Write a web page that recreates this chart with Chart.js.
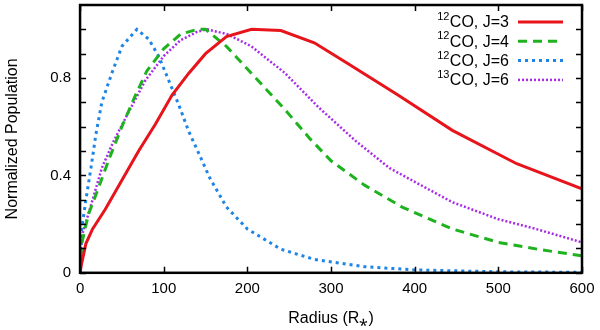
<!DOCTYPE html>
<html>
<head>
<meta charset="utf-8">
<script src="https://cdn.jsdelivr.net/npm/chart.js@4/dist/chart.umd.min.js"></script>
<style>
  html, body { margin: 0; padding: 0; background: #fff; }
  #wrap { width: 600px; height: 330px; }
</style>
</head>
<body>
<div id="wrap"><canvas id="grafico"></canvas></div>
<script>
// valores (raio em R*, populacao normalizada)
const seriesLabels = ['¹²CO, J=3', '¹²CO, J=4', '¹²CO, J=6', '¹³CO, J=6']

const radiusJ3 = [0, 2, 7, 15, 30, 50, 70, 90, 110, 130, 150, 175, 205, 240, 280, 320, 380, 445, 522, 600]
const popJ3    = [0, 0.04, 0.12, 0.18, 0.26, 0.38, 0.50, 0.61, 0.73, 0.82, 0.90, 0.97, 1.0, 0.995, 0.945, 0.86, 0.73, 0.585, 0.448, 0.345]

const radiusJ4 = [0, 2, 10, 20, 35, 50, 65, 80, 100, 120, 140, 150, 175, 210, 245, 275, 300, 340, 385, 445, 500, 550, 600]
const popJ4    = [0, 0.12, 0.24, 0.33, 0.47, 0.60, 0.72, 0.83, 0.92, 0.98, 1.0, 1.0, 0.93, 0.80, 0.67, 0.55, 0.46, 0.36, 0.27, 0.18, 0.125, 0.095, 0.07]

const radiusJ6 = [0, 2, 7, 13, 19, 26, 38, 50, 68, 82, 94, 106, 118, 130, 142, 155, 175, 200, 240, 280, 340, 400, 500, 600]
const popJ6    = [0, 0.18, 0.30, 0.43, 0.57, 0.70, 0.82, 0.93, 1.0, 0.96, 0.89, 0.79, 0.69, 0.58, 0.49, 0.39, 0.27, 0.18, 0.097, 0.055, 0.025, 0.012, 0.004, 0.002]

const radius13J6 = [0, 2, 15, 26, 40, 55, 78, 100, 120, 140, 152, 176, 205, 245, 285, 330, 370, 410, 445, 500, 545, 600]
const pop13J6    = [0, 0.15, 0.30, 0.43, 0.54, 0.64, 0.79, 0.89, 0.955, 0.99, 1.0, 0.98, 0.93, 0.82, 0.68, 0.54, 0.43, 0.355, 0.29, 0.22, 0.18, 0.125]

const xTicks = [0, 100, 200, 300, 400, 500, 600]
const yTicks = [0, 0.1, 0.2, 0.3, 0.4, 0.5, 0.6, 0.7, 0.8, 0.9, 1.0]
const yLabelled = ['0', '0.4', '0.8']

const pts = (xs, ys) => xs.map((x, i) => ({ x, y: ys[i] }))

const FONTE = "'Liberation Sans', Arial, sans-serif"
Chart.defaults.font.family = FONTE
Chart.defaults.font.size = 15
Chart.defaults.color = '#000'

// moldura e ticks para dentro, estilo gnuplot
const moldura = {
  id: 'moldura',
  afterDraw(chart) {
    const { ctx, chartArea: a, scales } = chart
    ctx.save()
    ctx.strokeStyle = '#000'
    ctx.lineWidth = 1.5
    scales.x.ticks.forEach(t => {
      const px = Math.round(scales.x.getPixelForValue(t.value)) + 0.5
      ctx.beginPath()
      ctx.moveTo(px, a.bottom); ctx.lineTo(px, a.bottom - 6)
      ctx.moveTo(px, a.top); ctx.lineTo(px, a.top + 6)
      ctx.stroke()
    })
    scales.y.ticks.forEach(t => {
      const py = Math.round(scales.y.getPixelForValue(t.value)) + 0.5
      ctx.beginPath()
      ctx.moveTo(a.left, py); ctx.lineTo(a.left + 6, py)
      ctx.moveTo(a.right, py); ctx.lineTo(a.right - 6, py)
      ctx.stroke()
    })
    ctx.lineWidth = 2.5
    ctx.strokeRect(a.left, a.top, a.right - a.left, a.bottom - a.top)
    ctx.restore()
  }
}

// superscritos desenhados menores e elevados
const SUP = { '¹': '1', '²': '2', '³': '3' }

// legenda: texto a esquerda, amostra de linha a direita
const legenda = {
  id: 'legenda',
  afterDatasetsDraw(chart) {
    const { ctx, chartArea: a } = chart
    ctx.save()
    ctx.textBaseline = 'middle'
    ctx.textAlign = 'left'
    chart.data.datasets.forEach((ds, i) => {
      const y = a.top + 17 + i * 19.3
      let sup = '', k = 0
      while (SUP[ds.label[k]]) { sup += SUP[ds.label[k]]; k++ }
      const rest = ds.label.slice(k)
      ctx.font = '16px ' + FONTE
      const wRest = ctx.measureText(rest).width
      ctx.font = '11px ' + FONTE
      const wSup = ctx.measureText(sup).width
      const right = a.right - 73
      ctx.fillStyle = '#000'
      ctx.fillText(sup, right - wRest - wSup - 0.5, y - 5)
      ctx.font = '16px ' + FONTE
      ctx.fillText(rest, right - wRest, y + 1)
      ctx.strokeStyle = ds.borderColor
      ctx.lineWidth = ds.borderWidth
      ctx.setLineDash(ds.borderDash || [])
      ctx.beginPath()
      ctx.moveTo(a.right - 64, y); ctx.lineTo(a.right - 19, y)
      ctx.stroke()
    })
    ctx.restore()
  }
}

const data = {
  datasets: [{
    label: seriesLabels[0],
    data: pts(radiusJ3, popJ3),
    borderColor: '#e8141c',
    borderWidth: 3
  }, {
    label: seriesLabels[1],
    data: pts(radiusJ4, popJ4),
    borderColor: '#1fb21f',
    borderWidth: 3,
    borderDash: [9, 6]
  }, {
    label: seriesLabels[2],
    data: pts(radiusJ6, popJ6),
    borderColor: '#1e84e6',
    borderWidth: 3,
    borderDash: [3, 4]
  }, {
    label: seriesLabels[3],
    data: pts(radius13J6, pop13J6),
    borderColor: '#a82be8',
    borderWidth: 2.5,
    borderDash: [2, 2]
  }]
}

const config = {
  type: 'line',
  data,
  options: {
    responsive: true,
    maintainAspectRatio: false,
    animation: false,
    layout: { padding: { top: 5, right: 18, left: 3, bottom: 2 } },
    elements: {
      point: { radius: 0 },
      line: { tension: 0, borderCapStyle: 'butt', fill: false }
    },
    plugins: {
      legend: { display: false },
      tooltip: { enabled: false }
    },
    scales: {
      x: {
        type: 'linear',
        min: 0,
        max: 600,
        afterBuildTicks: s => { s.ticks = xTicks.map(v => ({ value: v })) },
        afterFit: s => { s.paddingRight = 0 },
        grid: { display: false, drawTicks: false },
        border: { display: false },
        ticks: { padding: 7, maxRotation: 0, callback: v => String(v) },
        title: { display: true, text: 'Radius (R⁎)', font: { size: 16 }, padding: { top: 4, bottom: 0 } }
      },
      y: {
        min: 0,
        max: 1.1,
        afterBuildTicks: s => { s.ticks = yTicks.map(v => ({ value: v })) },
        afterFit: s => { s.paddingTop = 0 },
        grid: { display: false, drawTicks: false },
        border: { display: false },
        ticks: {
          padding: 9,
          autoSkip: false,
          callback: v => {
            const s = String(Math.round(v * 10) / 10)
            return yLabelled.includes(s) ? s : ''
          }
        },
        title: { display: true, text: 'Normalized Population', font: { size: 16 }, padding: { top: 0, bottom: 19 } }
      }
    }
  },
  plugins: [moldura, legenda]
}

const graph = new Chart(document.getElementById('grafico'), config)
</script>
</body>
</html>
